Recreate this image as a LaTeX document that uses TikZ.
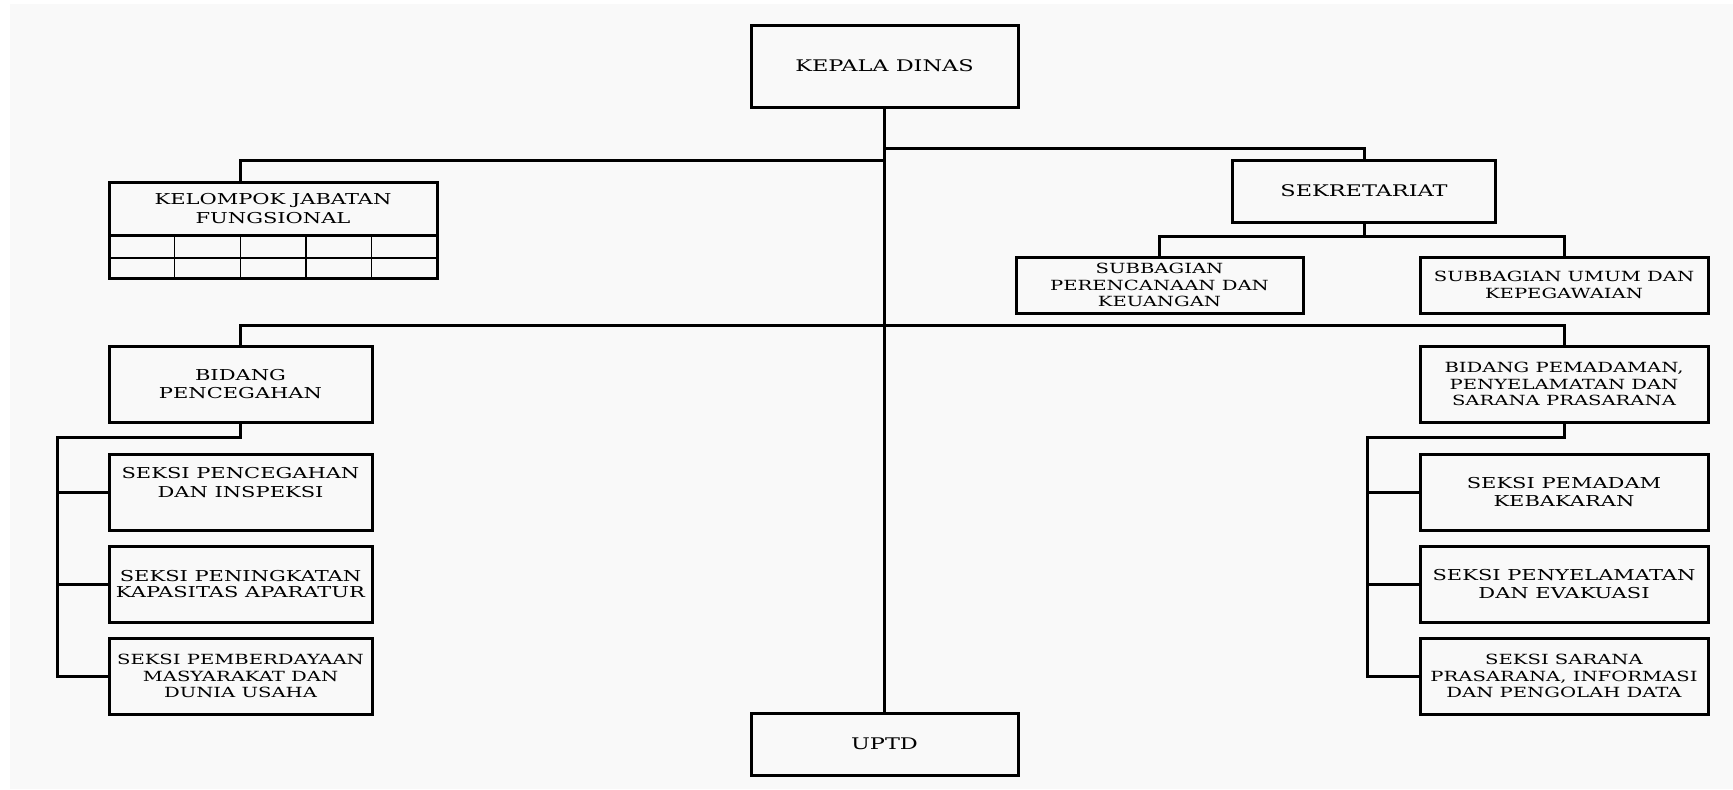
\documentclass[tikz,border=0pt]{standalone}
\usepackage{fontspec}
\setmainfont[FakeStretch=1.4]{DejaVu Serif}
\usetikzlibrary{positioning}
\definecolor{bgray}{RGB}{249,249,249}

\tikzset{
  box/.style={draw, line width=1.5pt, align=center, inner sep=0pt, outer sep=0pt},
  sz/.style 2 args={minimum width=#1*0.5pt, minimum height=#2*0.5pt},
  conn/.style={line width=1.5pt},
  fa/.style={font=\fontsize{8}{9.5}\selectfont},
  fb/.style={font=\fontsize{7.5}{9.3}\selectfont},
  fc/.style={font=\fontsize{7.5}{8.2}\selectfont},
  fd/.style={font=\fontsize{7}{8.2}\selectfont}
}

\begin{document}
\begin{tikzpicture}[x=0.5pt,y=-0.5pt]
\useasboundingbox (0,0) rectangle (1733,789);
\fill[bgray] (10,4) rectangle (1733,789);

%top boxes:
\node[box,sz={267}{82},fa] (kepala) at (884.5,66) {KEPALA DINAS};
\node[box,sz={328}{53},fb] (kjf) at (273,208.5) {KELOMPOK JABATAN\\FUNGSIONAL};
\node[box,sz={263}{62},fa] (sek) at (1364,191) {SEKRETARIAT};
\node[box,sz={287}{56},fd] (subren) at (1159.5,285) {SUBBAGIAN\\PERENCANAAN DAN\\KEUANGAN};
\node[box,sz={288}{56},fd] (subumum) at (1564,285) {SUBBAGIAN UMUM DAN\\KEPEGAWAIAN};
\node[box,sz={267}{62},fa] (uptd) at (884.5,744) {UPTD};

%grid under kjf
\foreach \i in {1,...,4}
  \draw[line width=0.7pt] (kjf.south west) ++(\i*65.6,0) -- ++(0,43);
\draw[line width=0.7pt] (kjf.south west) ++(0,23) -- ++(328,0);
\draw[box] (kjf.south west) rectangle ++(328,43);

%bidang:
\node[box,sz={263}{76},fb] (bidcegah) at (240.5,384) {BIDANG\\PENCEGAHAN};
\node[box,sz={288}{76},fd] (bidpadam) at (1564,384) {BIDANG PEMADAMAN,\\PENYELAMATAN DAN\\SARANA PRASARANA};

%seksi left
\node[box,sz={263}{76},fb] (sl1) at (240.5,492) {SEKSI PENCEGAHAN\\DAN INSPEKSI\\\mbox{}};
\node[box,sz={263}{76},fc] (sl2) at (240.5,584) {SEKSI PENINGKATAN\\KAPASITAS APARATUR};
\node[box,sz={263}{76},fd] (sl3) at (240.5,676) {SEKSI PEMBERDAYAAN\\MASYARAKAT DAN\\DUNIA USAHA};

%seksi right
\node[box,sz={288}{76},fb] (sr1) at (1564,492) {SEKSI PEMADAM\\KEBAKARAN};
\node[box,sz={288}{76},fb] (sr2) at (1564,584) {SEKSI PENYELAMATAN\\DAN EVAKUASI};
\node[box,sz={288}{76},fd] (sr3) at (1564,676) {SEKSI SARANA\\PRASARANA, INFORMASI\\DAN PENGOLAH DATA};

%lines:
\coordinate (jsek) at (884.5,148);
\coordinate (jkjf) at (884.5,160);
\coordinate (jsub) at (1364,236);
\coordinate (jbid) at (884.5,325);
\coordinate (lft) at (57,437.7);
\coordinate (rgt) at (1367.6,437.7);

\draw[conn] (kepala.south) -- (uptd.north);
\draw[conn] (jkjf) -| (bidcegah.north |- kjf.north);
\draw[conn] (jsek) -| (sek.north);
\draw[conn] (sek.south) -- (jsub);
\draw[conn] (subren.north) |- (jsub) -| (subumum.north);
\draw[conn] (bidcegah.north) |- (jbid) -| (bidpadam.north);

\draw[conn] (bidcegah.south) |- (lft) -- (lft |- sl3.west) -- (sl3.west);
\draw[conn] (bidpadam.south) |- (rgt) -- (rgt |- sr3.west) -- (sr3.west);
\foreach \i in {1,2} {
  \draw[conn] (lft |- sl\i.west) -- (sl\i.west);
  \draw[conn] (rgt |- sr\i.west) -- (sr\i.west);
}

\end{tikzpicture}
\end{document}
